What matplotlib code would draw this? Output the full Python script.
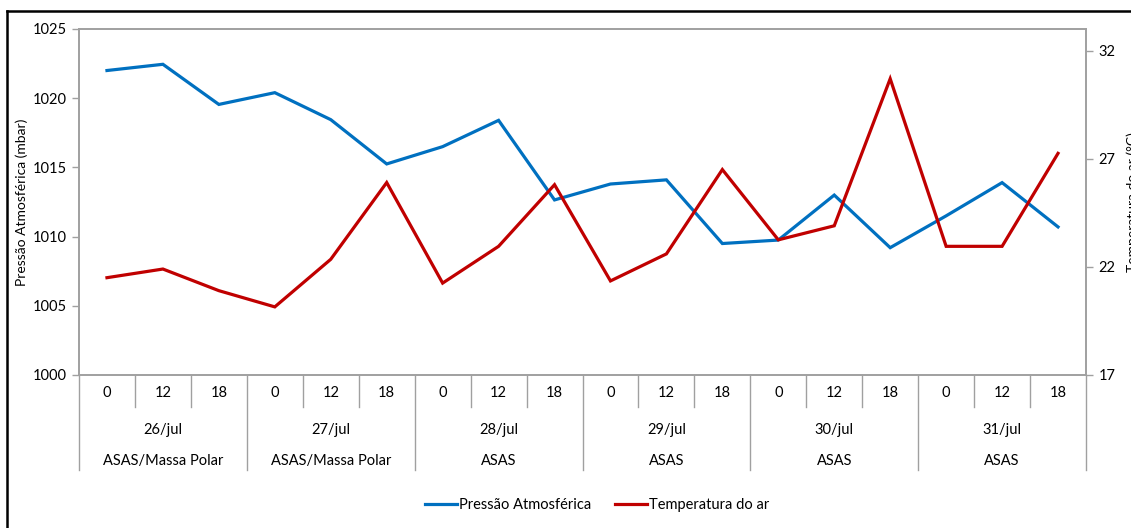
import matplotlib.pyplot as plt
from matplotlib.lines import Line2D

plt.rcParams['font.family'] = ['Lato', 'DejaVu Sans']

hours = ['0', '12', '18'] * 6
days = ['26/jul', '27/jul', '28/jul', '29/jul', '30/jul', '31/jul']
masses = ['ASAS/Massa Polar', 'ASAS/Massa Polar', 'ASAS', 'ASAS', 'ASAS', 'ASAS']

pressure = [1022.0, 1022.45, 1019.55, 1020.4, 1018.45, 1015.25,
            1016.5, 1018.4, 1012.65, 1013.8, 1014.1, 1009.5,
            1009.75, 1013.0, 1009.2, 1011.5, 1013.9, 1010.7]
temperature = [21.5, 21.9, 20.9, 20.15, 22.35, 25.9,
               21.25, 22.95, 25.8, 21.35, 22.6, 26.5,
               23.25, 23.9, 30.7, 22.95, 22.95, 27.25]

blue = '#0070C0'
red = '#C00000'
grey = '#A0A0A0'
W, H = 1131, 528

fig = plt.figure(figsize=(W / 100, H / 100), dpi=100)
left, right, top, bottom = 79, 1086, 29, 375
ax = fig.add_axes([left / W, 1 - bottom / H, (right - left) / W, (bottom - top) / H])
ax2 = ax.twinx()

x = list(range(len(hours)))
l1, = ax.plot(x, pressure, color=blue, lw=2.3, solid_joinstyle='miter')
l2, = ax2.plot(x, temperature, color=red, lw=2.3, solid_joinstyle='miter')

ax.set_xlim(-0.5, len(hours) - 0.5)
ax.set_ylim(1000, 1025)
ax.set_yticks(range(1000, 1026, 5))
ax2.set_ylim(17, 33)
ax2.set_yticks([17, 22, 27, 32])

for a in (ax, ax2):
    for s in a.spines.values():
        s.set_color(grey)
        s.set_linewidth(1.2)
    a.tick_params(axis='y', colors=grey, length=5, width=1, labelsize=10.5,
                  labelcolor='#000000', pad=4)
ax.set_xticks([])

ax.set_ylabel('Pressão Atmosférica (mbar)', fontsize=10, labelpad=3)
# the reference cuts this label off at the right edge
ax2.set_ylabel('Temperatura do ar (°C)', fontsize=10, labelpad=8)

# multi-level category axis
trans = ax.get_xaxis_transform()
ph = bottom - top
y_short = -(407 - bottom) / ph
y_long = -(470 - bottom) / ph
for i in range(len(hours)):
    ax.text(i, -(393 - bottom) / ph, hours[i], transform=trans,
            ha='center', va='center', fontsize=10.5)
for i in range(len(hours) + 1):
    yb = y_long if i % 3 == 0 else y_short
    ax.plot([i - 0.5, i - 0.5], [0, yb], transform=trans, color=grey,
            lw=1, clip_on=False)
for d in range(len(days)):
    ax.text(d * 3 + 1, -(430 - bottom) / ph, days[d], transform=trans,
            ha='center', va='center', fontsize=10.5)
    ax.text(d * 3 + 1, -(461 - bottom) / ph, masses[d], transform=trans,
            ha='center', va='center', fontsize=10.5)

fig.legend([l1, l2], ['Pressão Atmosférica', 'Temperatura do ar'],
           loc='center', bbox_to_anchor=(597 / W, 1 - 505 / H), ncol=2,
           frameon=False, fontsize=10.5, handlelength=2.2,
           handletextpad=0.15, columnspacing=1.6)

# outer black frame (cut off on right and bottom)
fig.add_artist(Line2D([7 / W, 7 / W], [0, 1 - 11 / H], color='black', lw=1.8))
fig.add_artist(Line2D([7 / W, 1], [1 - 11 / H, 1 - 11 / H], color='black', lw=1.8))

fig.savefig('out.png', dpi=100)
